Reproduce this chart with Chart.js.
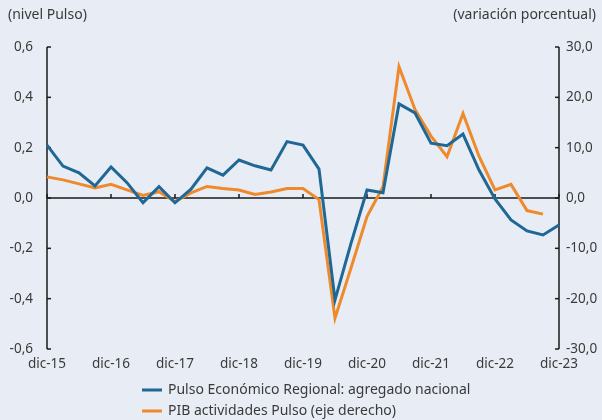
<!DOCTYPE html>
<html>
<head>
<meta charset="utf-8">
<script src="https://cdn.jsdelivr.net/npm/chart.js@4"></script>
<style>
  html, body { margin: 0; padding: 0; background: #E8ECF4; }
  #wrap { width: 602px; height: 420px; }
</style>
</head>
<body>
<div id="wrap"><canvas id="graficaPulso"></canvas></div>
<script>
// trimestres de dic-15 a dic-23
const trimestres = [
  'dic-15', 'mar-16', 'jun-16', 'sep-16',
  'dic-16', 'mar-17', 'jun-17', 'sep-17',
  'dic-17', 'mar-18', 'jun-18', 'sep-18',
  'dic-18', 'mar-19', 'jun-19', 'sep-19',
  'dic-19', 'mar-20', 'jun-20', 'sep-20',
  'dic-20', 'mar-21', 'jun-21', 'sep-21',
  'dic-21', 'mar-22', 'jun-22', 'sep-22',
  'dic-22', 'mar-23', 'jun-23', 'sep-23',
  'dic-23'
];

// nivel Pulso (eje izquierdo)
const pulsoRegional = [
  0.21, 0.127, 0.10, 0.048,
  0.123, 0.061, -0.019, 0.045,
  -0.019, 0.035, 0.12, 0.091,
  0.151, 0.128, 0.111, 0.224,
  0.21, 0.115, -0.405, -0.18,
  0.032, 0.021, 0.374, 0.338,
  0.218, 0.208, 0.254, 0.111,
  -0.004, -0.087, -0.131, -0.147,
  -0.107
];

// variacion porcentual (eje derecho)
const pibPulso = [
  4.2, 3.6, 2.8, 2.0,
  2.7, 1.6, 0.5, 1.25,
  -0.7, 1.0, 2.3, 1.9,
  1.6, 0.7, 1.2, 1.9,
  1.9, -0.3, -23.9, -13.9,
  -3.7, 2.25, 26.1, 17.6,
  12.3, 8.2, 16.8, 8.3,
  1.6, 2.7, -2.5, -3.2,
  null
];

const nombresSeries = ['Pulso Económico Regional: agregado nacional', 'PIB actividades Pulso (eje derecho)'];
const titulosEjes = ['(nivel Pulso)', '(variación porcentual)'];

const AZUL = '#1F6896';
const NARANJA = '#EE8A2B';
const TEXTO = '#3a3a3a';
const FUENTE = '"Noto Sans", sans-serif';

function coma(v, dec) {
  if (Math.abs(v) < 1e-9) v = 0;
  return v.toFixed(dec).replace('.', ',');
}

// ejes tipo Excel, titulos y leyenda
const decorado = {
  id: 'decorado',
  beforeDatasetsDraw(chart) {
    const { ctx, chartArea: a, scales } = chart;
    const y = scales.y, y1 = scales.y1, x = scales.x;
    ctx.save();
    ctx.strokeStyle = '#1a1a1a';
    ctx.lineWidth = 1.5;
    const linea = (x1, yA, x2, yB) => { ctx.beginPath(); ctx.moveTo(x1, yA); ctx.lineTo(x2, yB); ctx.stroke(); };
    linea(a.left, a.top, a.left, a.bottom);
    y.ticks.forEach(t => { const p = y.getPixelForValue(t.value); linea(a.left, p, a.left + 4, p); });
    linea(a.right, a.top, a.right, a.bottom);
    y1.ticks.forEach(t => { const p = y1.getPixelForValue(t.value); linea(a.right, p, a.right - 4, p); });
    const cero = y.getPixelForValue(0);
    linea(a.left, cero, a.right, cero);
    trimestres.forEach((t, i) => {
      if (i % 4 === 0) { const px = x.getPixelForValue(i); linea(px, cero, px, cero - 4); }
    });
    ctx.restore();
  },
  afterDraw(chart) {
    const { ctx } = chart;
    ctx.save();
    ctx.font = '14px ' + FUENTE;
    ctx.fillStyle = TEXTO;
    ctx.textBaseline = 'middle';
    ctx.textAlign = 'left';
    ctx.fillText(titulosEjes[0], 8, 15);
    ctx.textAlign = 'right';
    ctx.fillText(titulosEjes[1], 596, 15);
    ctx.textAlign = 'left';
    chart.data.datasets.forEach((ds, i) => {
      const yy = 390 + i * 21;
      ctx.strokeStyle = ds.borderColor;
      ctx.lineWidth = 3;
      ctx.beginPath(); ctx.moveTo(142, yy); ctx.lineTo(162, yy); ctx.stroke();
      ctx.fillText(ds.label, 168, yy);
    });
    ctx.restore();
  }
};

const fuenteTicks = { family: FUENTE, size: 13.5 };

new Chart(document.getElementById('graficaPulso'), {
  type: 'line',
  data: {
    labels: trimestres,
    datasets: [
      { label: nombresSeries[0], data: pulsoRegional, yAxisID: 'y', borderColor: AZUL, backgroundColor: AZUL, borderWidth: 3, pointRadius: 0, tension: 0 },
      { label: nombresSeries[1], data: pibPulso, yAxisID: 'y1', borderColor: NARANJA, backgroundColor: NARANJA, borderWidth: 3, pointRadius: 0, tension: 0 }
    ]
  },
  options: {
    responsive: true,
    maintainAspectRatio: false,
    animation: false,
    layout: { padding: { top: 47, bottom: 0, left: 0, right: 0 } },
    plugins: { legend: { display: false }, tooltip: { enabled: false } },
    scales: {
      x: {
        offset: false,
        grid: { display: false, drawTicks: false },
        border: { display: false },
        ticks: {
          autoSkip: false, maxRotation: 0, padding: 7, font: fuenteTicks, color: TEXTO,
          callback: (v, i) => (i % 4 === 0 ? trimestres[i] : null)
        },
        afterFit: s => { s.height = 71; }
      },
      y: {
        position: 'left', min: -0.6, max: 0.6,
        grid: { display: false, drawTicks: false },
        border: { display: false },
        ticks: { stepSize: 0.2, padding: 14, font: fuenteTicks, color: TEXTO, callback: v => coma(v, 1) },
        afterFit: s => { s.width = 47; }
      },
      y1: {
        position: 'right', min: -30, max: 30,
        grid: { display: false, drawTicks: false },
        border: { display: false },
        ticks: { stepSize: 10, padding: 7, font: fuenteTicks, color: TEXTO, callback: v => coma(v, 1) },
        afterFit: s => { s.width = 43; }
      }
    }
  },
  plugins: [decorado]
});
</script>
</body>
</html>
